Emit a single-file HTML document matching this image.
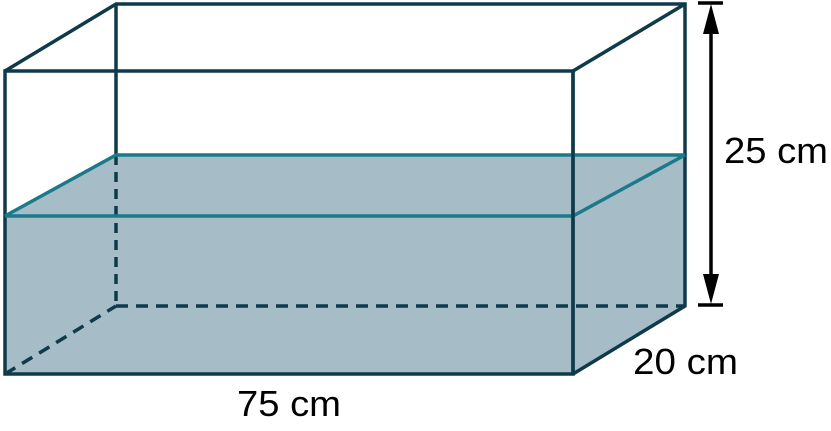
<!DOCTYPE html>
<html><head><style>html,body{margin:0;padding:0;background:#fff;}svg{display:block}</style></head>
<body>
<svg width="831" height="431" viewBox="0 0 831 431" xmlns="http://www.w3.org/2000/svg">
<polygon points="5,216 116,155 685,155 685,306 573,374 5,374" fill="#a6bdc8"/>
<g stroke="#0e3a4a" stroke-width="3.5" fill="none">
<line x1="116" y1="155" x2="116" y2="306" stroke-dasharray="10,7"/>
<line x1="116" y1="306" x2="685" y2="306" stroke-dasharray="12,8"/>
<line x1="5" y1="374" x2="116" y2="306" stroke-dasharray="12,8"/>
<line x1="116" y1="4" x2="116" y2="155"/>
<polyline points="5,71 116,4 685,4 685,306 573,374"/>
<line x1="573" y1="71" x2="685" y2="4"/>
<rect x="5" y="71" width="568" height="303"/>
</g>
<g stroke="#1a7a8a" stroke-width="3.5" fill="none">
<polyline points="5,216 116,155 685,155"/>
<polyline points="5,216 573,216 685,155"/>
</g>
<line x1="573" y1="71" x2="573" y2="374" stroke="#0e3a4a" stroke-width="3.5"/>
<g stroke="#000" stroke-width="3.5">
<line x1="698" y1="3" x2="723" y2="3"/>
<line x1="698" y1="305" x2="723" y2="305"/>
<line x1="711" y1="25" x2="711" y2="283"/>
</g>
<polygon points="711,4 703,34 719,34" fill="#000"/>
<polygon points="711,304 703,274 719,274" fill="#000"/>
<g font-family="Liberation Sans, sans-serif" font-size="36" fill="#000">
<text x="724" y="163" textLength="104" lengthAdjust="spacingAndGlyphs">25 cm</text>
<text x="633" y="374" textLength="105" lengthAdjust="spacingAndGlyphs">20 cm</text>
<text x="237" y="416" textLength="104" lengthAdjust="spacingAndGlyphs">75 cm</text>
</g>
</svg>
</body></html>
